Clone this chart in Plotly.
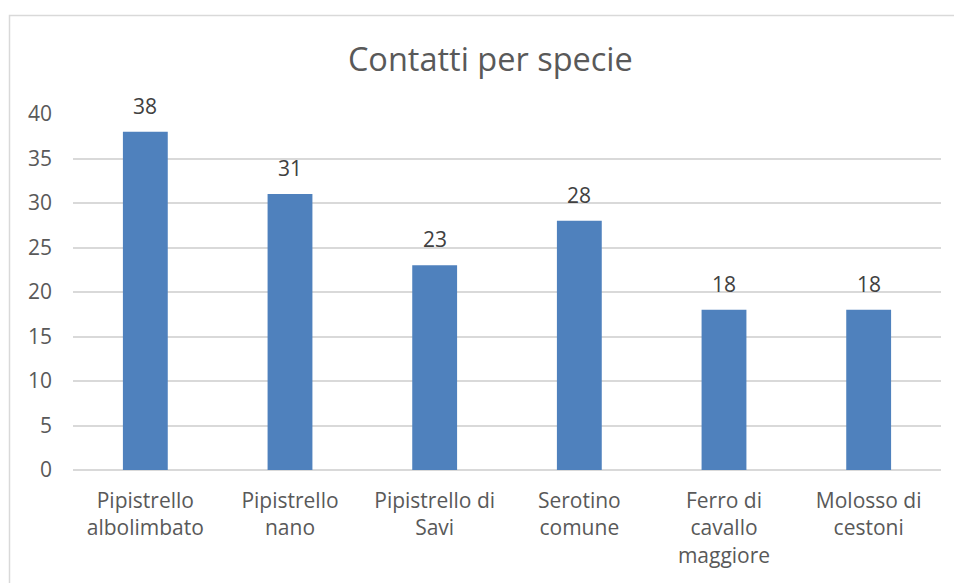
import plotly.graph_objects as go

categories = ["Pipistrello<br>albolimbato", "Pipistrello<br>nano", "Pipistrello di<br>Savi",
              "Serotino<br>comune", "Ferro di<br>cavallo<br>maggiore", "Molosso di<br>cestoni"]
values = [38, 31, 23, 28, 18, 18]
y_ticks = [0, 5, 10, 15, 20, 25, 30, 35, 40]

W, H = 954, 583
L, R, T, B = 73, 13, 114, 113
pw, ph = W - L - R, H - T - B

FONT = "Open Sans"
GRAY = "#595959"

fig = go.Figure(go.Bar(
    x=categories, y=values,
    marker=dict(color="#4F81BD", line=dict(width=0)),
    width=0.31,
    cliponaxis=False,
))

for c, v in zip(categories, values):
    fig.add_annotation(x=c, y=v, text=str(v), showarrow=False, yanchor="bottom",
                       yshift=10, font=dict(family=FONT, size=21, color="#404040"))

fig.update_layout(
    width=W, height=H,
    margin=dict(l=L, r=R, t=T, b=B),
    paper_bgcolor="white", plot_bgcolor="white",
    showlegend=False,
    title=dict(text="Contatti per specie", x=0.514, xanchor="center",
               y=1 - 60 / H, yanchor="middle",
               font=dict(family=FONT, size=32.5, color=GRAY)),
    font=dict(family=FONT, color=GRAY),
    bargap=0.69,
    xaxis=dict(showgrid=False, showline=False, zeroline=False, ticks="",
               ticklabelstandoff=16,
               tickfont=dict(family=FONT, size=21, color=GRAY)),
    yaxis=dict(range=[0, 40], tickvals=y_ticks, showgrid=True, gridcolor="#D9D9D9",
               gridwidth=1.5, zeroline=True, zerolinecolor="#D9D9D9", zerolinewidth=1.5,
               showline=False, ticks="", ticklabelstandoff=20,
               tickfont=dict(family=FONT, size=21, color=GRAY)),
    shapes=[dict(type="rect", xref="paper", yref="paper",
                 x0=(9.5 - L) / pw, x1=(W + 20 - L) / pw,
                 y0=(T + ph - (H + 20)) / ph, y1=(T + ph - 15.5) / ph,
                 line=dict(color="#D9D9D9", width=1.5), fillcolor="rgba(0,0,0,0)", layer="below")],
)

fig.write_html("out.html")
